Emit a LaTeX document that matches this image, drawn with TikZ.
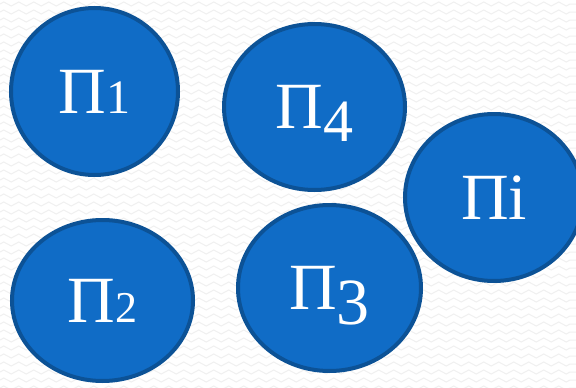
\documentclass[tikz,border=0pt]{standalone}
\usepackage{fontspec}
\setmainfont{Liberation Serif}
\usetikzlibrary{shapes.geometric,decorations.pathmorphing}
\definecolor{bleu}{RGB}{16,108,198}
\definecolor{bleufonce}{RGB}{12,82,150}
\definecolor{fond}{RGB}{240,240,240}
\newcommand{\chiffre}[3]{\raisebox{#2}{\fontsize{#1}{#1}\selectfont #3}}
\begin{document}
\begin{tikzpicture}[x=1pt,y=-1pt]
\tikzset{bulle/.style={draw=bleufonce, fill=bleu, ellipse, line width=4pt, inner sep=0pt, text=white, font=\fontsize{66}{70}\selectfont, text height=43pt, text depth=0pt}}
\useasboundingbox (0,0) rectangle (576,388);
\clip (0,0) rectangle (576,388);
\fill[white] (0,0) rectangle (576,388);
\foreach \r in {4,12,...,388}
  \draw[fond, line width=1pt, decorate, decoration={zigzag, segment length=15pt, amplitude=2pt}] (0,\r) -- (576,\r);
\node[bulle, minimum width=167pt, minimum height=167pt] (P1) at (94.5,91.5) {П\chiffre{48}{0pt}{1}};
\node[bulle, minimum width=181pt, minimum height=166pt] (P4) at (314.5,107) {П\chiffre{60}{-13pt}{4}};
\node[bulle, minimum width=178pt, minimum height=167pt] (Pi) at (494,197.5) {Пi};
\node[bulle, minimum width=183pt, minimum height=166pt] (P3) at (329.5,288) {П\chiffre{66}{-15pt}{3}};
\node[bulle, minimum width=181pt, minimum height=161pt] (P2) at (102.5,300.5) {П\chiffre{44}{0pt}{2}};
\end{tikzpicture}
\end{document}
